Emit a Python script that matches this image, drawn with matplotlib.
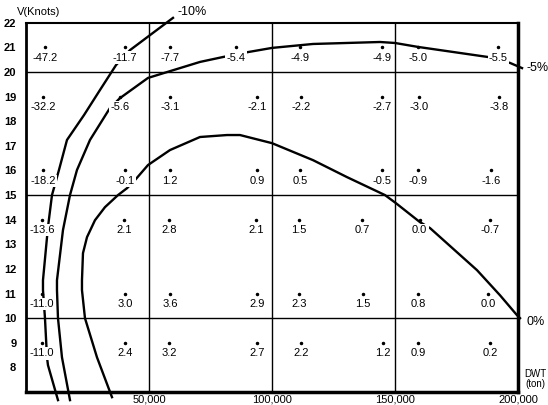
import matplotlib
matplotlib.use("Agg")
import matplotlib.pyplot as plt

plt.rcParams['font.family'] = ['Liberation Sans Narrow', 'Liberation Sans', 'DejaVu Sans']

# readings: speed rows (knots), DWT of each reading, value in %
speeds = [21, 19, 16, 14, 11, 9]
dwt_rows = [
    [7700, 40200, 58500, 85400, 111400, 144700, 159300, 192000],
    [6900, 38200, 58500, 94000, 111800, 144700, 159800, 192300],
    [6900, 40200, 58500, 94000, 111400, 144700, 159300, 189000],
    [6500, 39800, 58100, 93500, 111000, 136600, 160000, 188600],
    [6500, 40200, 58500, 94000, 111000, 137000, 159300, 187800],
    [6500, 40200, 58100, 94000, 111800, 145100, 159300, 188600],
]
values = [
    [-47.2, -11.7, -7.7, -5.4, -4.9, -4.9, -5.0, -5.5],
    [-32.2, -5.6, -3.1, -2.1, -2.2, -2.7, -3.0, -3.8],
    [-18.2, -0.1, 1.2, 0.9, 0.5, -0.5, -0.9, -1.6],
    [-13.6, 2.1, 2.8, 2.1, 1.5, 0.7, 0.0, -0.7],
    [-11.0, 3.0, 3.6, 2.9, 2.3, 1.5, 0.8, 0.0],
    [-11.0, 2.4, 3.2, 2.7, 2.2, 1.2, 0.9, 0.2],
]

# iso-lines
m10_dwt = [59760, 42280, 36590, 30080, 23580, 16670, 13410, 10570, 8940, 6910,
           6910, 7720, 8540, 8940, 13010]
m10_v = [22.20, 20.89, 20.28, 19.27, 18.25, 17.24, 16.02, 15.0, 13.70, 11.54,
         11.14, 10.0, 8.41, 8.09, 6.67]

m5_dwt = [17890, 14630, 13010, 12600, 12600, 15040, 17890, 20730, 26020, 34150,
          38210, 49590, 70730, 80080, 90240, 100000, 116670, 143900, 150000,
          159350, 187800, 196750, 201630]
m5_v = [6.67, 8.41, 10.0, 11.14, 11.54, 13.58, 15.0, 16.02, 17.24, 18.54,
        18.94, 19.76, 20.41, 20.61, 20.81, 20.98, 21.14, 21.22, 21.18,
        21.02, 20.61, 20.37, 20.16]

z_dwt = [34960, 28860, 23980, 22760, 22760, 23170, 24800, 28050, 32110, 37400,
         41060, 44310, 49590, 58540, 70730, 81710, 86990, 100000, 116670,
         130490, 145930, 150400, 160160, 164230, 183330, 192680, 199590,
         200810]
z_v = [6.79, 8.41, 10.0, 11.14, 11.54, 12.64, 13.29, 13.98, 14.51, 15.0,
       15.28, 15.61, 16.22, 16.83, 17.36, 17.44, 17.44, 17.11, 16.42,
       15.73, 15.0, 14.67, 13.90, 13.66, 11.95, 10.93, 10.12, 10.0]

xticks = [50000, 100000, 150000, 200000]
xticklabels = ['50,000', '100,000', '150,000', '200,000']
yticks = list(range(8, 23))

fig = plt.figure(figsize=(5.48, 4.05), dpi=100)
ax = fig.add_axes([0.0474, 0.0321, 0.8979, 0.9116])
ax.set_xlim(0, 200000)
ax.set_ylim(7, 22)

for xv in [50000, 100000, 150000]:
    ax.axvline(xv, color='black', lw=1, zorder=1)
for yv in [10, 15, 20]:
    ax.axhline(yv, color='black', lw=1, zorder=1)

for cx, cy in [(m10_dwt, m10_v), (m5_dwt, m5_v), (z_dwt, z_v)]:
    ax.plot(cx, cy, color='black', lw=1.7, clip_on=False, zorder=2,
            solid_joinstyle='round')

for sp, row_x, row_v in zip(speeds, dwt_rows, values):
    ax.plot(row_x, [sp] * len(row_x), 'k.', ms=3, zorder=5)
    for xv, val in zip(row_x, row_v):
        ax.annotate(f"{val:.1f}", (xv, sp), xytext=(0, -7.5),
                    textcoords='offset points', ha='center', va='center',
                    fontsize=8, zorder=4,
                    bbox=dict(boxstyle='square,pad=0.12', fc='white', ec='none'))

ax.text(m10_dwt[0] + 2000, 22.44, '-10%', fontsize=9, ha='left', va='center')
ax.text(203500, 20.16, '-5%', fontsize=9, ha='left', va='center')
ax.text(203300, 9.84, '0%', fontsize=9, ha='left', va='center')

ax.text(-0.018, 1.029, 'V(Knots)', transform=ax.transAxes, fontsize=8,
        ha='left', va='center')
ax.text(1.035, 0.035, 'DWT\n(ton)', transform=ax.transAxes, fontsize=7,
        ha='center', va='center', linespacing=0.9)

ax.set_xticks(xticks)
ax.set_xticklabels(xticklabels, fontsize=8)
ax.set_yticks(yticks)
ax.set_yticklabels([str(t) for t in yticks], fontsize=8, fontweight='bold')
ax.tick_params(axis='both', length=0)
ax.tick_params(axis='y', pad=7)
ax.tick_params(axis='x', pad=2)

ax.spines['left'].set_linewidth(2)
ax.spines['bottom'].set_linewidth(2.5)
ax.spines['right'].set_linewidth(2.5)
ax.spines['top'].set_linewidth(1.5)

fig.savefig('out.png', dpi=100)
